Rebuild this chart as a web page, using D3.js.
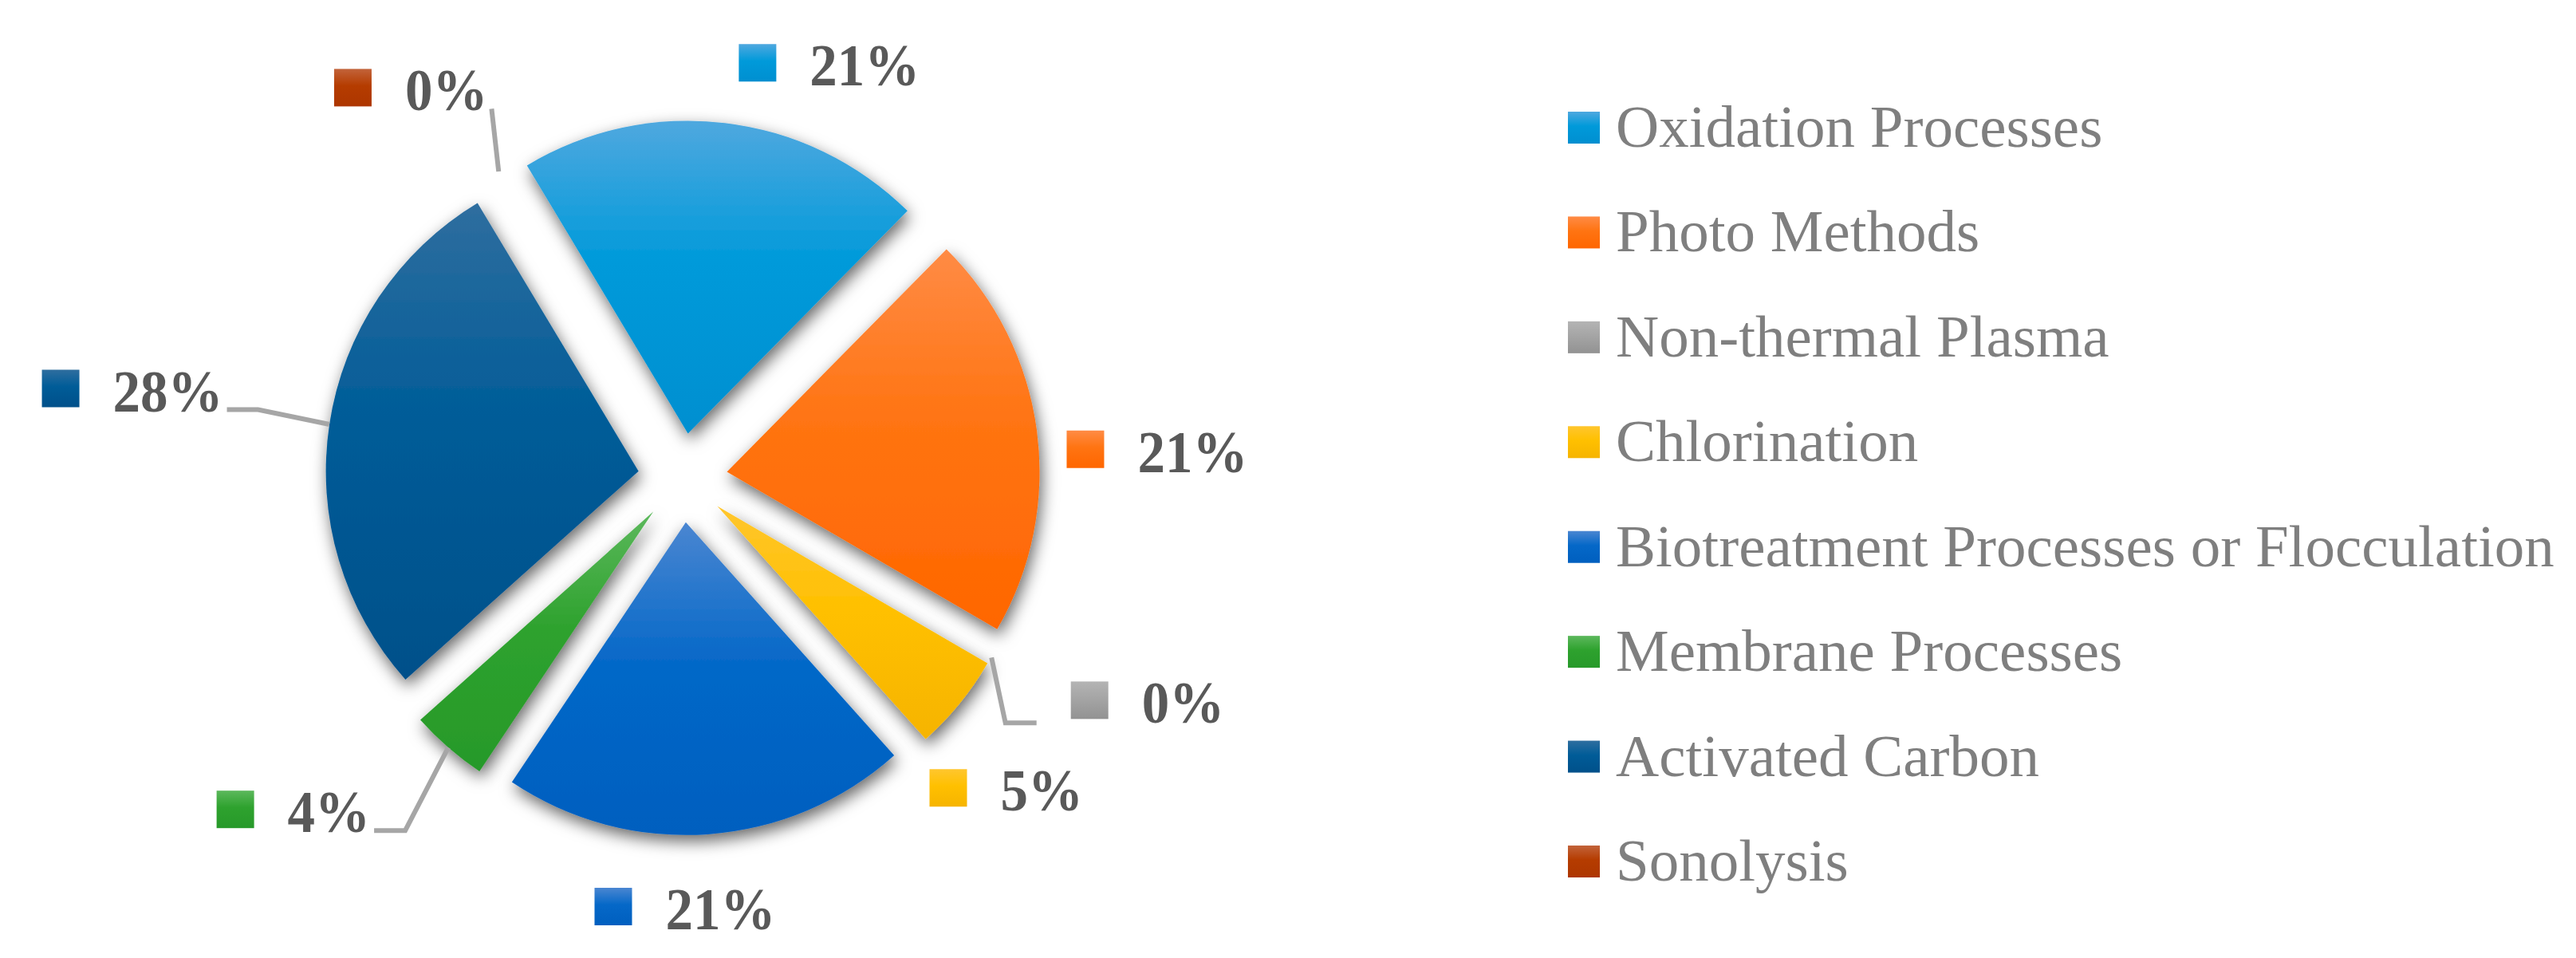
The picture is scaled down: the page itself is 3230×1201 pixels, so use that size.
<!DOCTYPE html>
<html>
<head>
<meta charset="utf-8">
<script src="https://cdn.jsdelivr.net/npm/d3@7"></script>
<style>
html, body { margin: 0; padding: 0; background: #fff; }
svg { display: block; }
</style>
</head>
<body>
<div id="chart"></div>
<script>
// data
var categories = ["Oxidation Processes", "Photo Methods", "Non-thermal Plasma", "Chlorination",
  "Biotreatment Processes or Flocculation", "Membrane Processes", "Activated Carbon", "Sonolysis"];
var percents = [21, 21, 0, 5, 21, 4, 28, 0];

// colours (top of gradient, base, bottom)
var topColors = ["#4fa8df", "#ff8b45", "#b4b4b4", "#ffc62e", "#4a86d1", "#5cb85c", "#2f6e9f", "#c2633a"];
var baseColors = ["#009ada", "#ff7412", "#a5a5a5", "#ffc000", "#0568c8", "#2ea22e", "#005c98", "#b53c00"];
var bottomColors = ["#008fd0", "#ff6600", "#929292", "#f6b400", "#005fbf", "#27992a", "#00508a", "#ad3600"];

// data label placement, moved by hand in the original (degrees clockwise from 12 o'clock, px from centre)
var labelAngle = [20.5, 89.3, 117.8, 135.8, 179.7, 227.7, 276.9, 323.5];
var labelDist = [525, 595, 659, 582, 566, 660, 695, 573];
var hasLeader = [false, false, true, false, false, true, true, true];

var width = 3230, height = 1201;
var cx = 856, cy = 599;
var radius = 392, explode = 56;
var startDeg = -31;

var data = categories.map(function (c, i) {
  return { name: c, value: percents[i], i: i };
});

var svg = d3.select("#chart").append("svg")
  .attr("width", width)
  .attr("height", height);

svg.append("rect").attr("width", width).attr("height", height).attr("fill", "#fff");

var defs = svg.append("defs");

var shadow = defs.append("filter")
  .attr("id", "shadow")
  .attr("x", "-30%").attr("y", "-30%")
  .attr("width", "160%").attr("height", "160%");
shadow.append("feDropShadow")
  .attr("dx", 3).attr("dy", 8)
  .attr("stdDeviation", 10)
  .attr("flood-color", "#000")
  .attr("flood-opacity", 0.6);

data.forEach(function (d, i) {
  var g = defs.append("linearGradient")
    .attr("id", "grad" + i)
    .attr("x1", 0).attr("y1", 0).attr("x2", 0).attr("y2", 1);
  g.append("stop").attr("offset", "0%").attr("stop-color", topColors[i]);
  g.append("stop").attr("offset", "45%").attr("stop-color", baseColors[i]);
  g.append("stop").attr("offset", "100%").attr("stop-color", bottomColors[i]);
});

var start = startDeg * Math.PI / 180;
var pie = d3.pie()
  .value(function (d) { return d.value; })
  .sort(null)
  .startAngle(start)
  .endAngle(start + 2 * Math.PI);

var arc = d3.arc()
  .innerRadius(0)
  .outerRadius(radius);

var arcs = pie(data);

function mid(d) { return (d.startAngle + d.endAngle) / 2; }

var pieG = svg.append("g")
  .attr("transform", "translate(" + cx + "," + cy + ")");

pieG.selectAll("path.slice")
  .data(arcs)
  .enter()
  .append("path")
  .attr("class", "slice")
  .attr("d", arc)
  .attr("fill", function (d) { return "url(#grad" + d.data.i + ")"; })
  .attr("filter", "url(#shadow)")
  .attr("transform", function (d) {
    var a = mid(d);
    return "translate(" + (Math.sin(a) * explode) + "," + (-Math.cos(a) * explode) + ")";
  });

// data labels: key + percent
var labelFont = "'Liberation Serif', 'Times New Roman', serif";
var labels = svg.selectAll("g.dlabel")
  .data(arcs)
  .enter()
  .append("g")
  .attr("class", "dlabel");

labels.append("rect")
  .attr("x", 0).attr("y", -52)
  .attr("width", 47).attr("height", 47)
  .attr("fill", function (d) { return "url(#grad" + d.data.i + ")"; });

labels.append("text")
  .attr("transform", "translate(89,0) scale(0.92,1)")
  .attr("font-family", labelFont)
  .attr("font-weight", "bold")
  .attr("font-size", 75)
  .attr("fill", "#595959")
  .text(function (d) { return d.data.value + "%"; });

var boxes = [];
labels.each(function (d) {
  var i = d.data.i;
  var bb = this.getBBox();
  var a = labelAngle[i] * Math.PI / 180;
  var tx = cx + Math.sin(a) * labelDist[i];
  var ty = cy - Math.cos(a) * labelDist[i];
  var x0 = tx - bb.width / 2;
  d3.select(this).attr("transform", "translate(" + x0 + "," + ty + ")");
  boxes[i] = { left: x0, right: x0 + bb.width, base: ty };
});

// leader lines
var leaders = arcs.filter(function (d) { return hasLeader[d.data.i]; });
svg.selectAll("polyline.leader")
  .data(leaders)
  .enter()
  .append("polyline")
  .attr("class", "leader")
  .attr("fill", "none")
  .attr("stroke", "#a6a6a6")
  .attr("stroke-width", 6)
  .attr("points", function (d) {
    var a = mid(d);
    var sx = cx + Math.sin(a) * (radius + explode);
    var sy = cy - Math.cos(a) * (radius + explode);
    var b = boxes[d.data.i];
    var pts = [[sx, sy]];
    var ex, ey, elx;
    if ((b.left + b.right) / 2 < sx) {
      ex = b.right + 5; ey = b.base - 2; elx = ex + 39;
      if (elx < sx) pts.push([elx, ey]);
    } else {
      ex = b.left - 43; ey = b.base; elx = ex - 39;
      if (elx > sx) pts.push([elx, ey]);
    }
    pts.push([ex, ey]);
    return pts.map(function (p) { return p.join(","); }).join(" ");
  });

// legend
var legendY = d3.scalePoint()
  .domain(categories)
  .range([160, 1080]);

var legend = svg.selectAll("g.legend")
  .data(data)
  .enter()
  .append("g")
  .attr("class", "legend")
  .attr("transform", function (d) { return "translate(1966," + legendY(d.name) + ")"; });

legend.append("rect")
  .attr("x", 0).attr("y", -20)
  .attr("width", 40).attr("height", 40)
  .attr("fill", function (d) { return "url(#grad" + d.i + ")"; });

legend.append("text")
  .attr("x", 60).attr("y", 24)
  .attr("font-family", labelFont)
  .attr("font-size", 75)
  .attr("fill", "#7f7f7f")
  .text(function (d) { return d.name; });
</script>
</body>
</html>
